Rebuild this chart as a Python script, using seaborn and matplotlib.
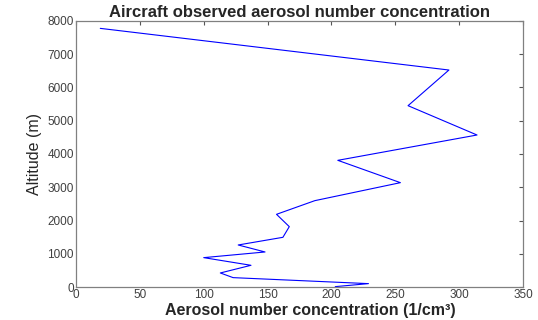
import matplotlib
matplotlib.use("Agg")
import matplotlib.pyplot as plt
import seaborn as sns
import pandas as pd

# Vertical profile from the aircraft sounding (top to bottom)
altitude_m = [7770, 6520, 5450, 4570, 3810, 3140, 2600, 2190, 1820, 1500,
              1270, 1060, 890, 660, 430, 290, 110, 20]
concentration = [19, 292, 260, 314, 205, 254, 187, 157, 167, 162,
                 127, 148, 100, 137, 113, 123, 229, 203]

x_ticks = [0, 50, 100, 150, 200, 250, 300, 350]
y_ticks = [0, 1000, 2000, 3000, 4000, 5000, 6000, 7000, 8000]

df = pd.DataFrame({"conc": concentration, "alt": altitude_m})

sns.set_theme(style="white")
plt.rcParams["font.family"] = ["Liberation Sans", "DejaVu Sans"]

fig = plt.figure(figsize=(5.38, 3.2), dpi=100)
ax = fig.add_axes([0.1413, 0.1022, 0.8308, 0.8331])

sns.lineplot(data=df, x="conc", y="alt", sort=False, estimator=None,
             color="#0000ff", linewidth=0.8, ax=ax)

ax.set_xlim(0, 350)
ax.set_ylim(0, 8000)
ax.set_xticks(x_ticks)
ax.set_yticks(y_ticks)
ax.tick_params(direction="in", length=3, width=0.8, colors="#555555",
               labelcolor="#404040", labelsize=8.5, top=True, right=True,
               pad=1.5)
for s in ax.spines.values():
    s.set_visible(True)
    s.set_color("#808080")
    s.set_linewidth(0.9)

ax.set_title("Aircraft observed aerosol number concentration",
             fontsize=12, fontweight="bold", pad=3)
ax.set_xlabel("Aerosol number concentration (1/cm\u00b3)", fontsize=11.5,
              fontweight="bold", va="baseline")
ax.xaxis.set_label_coords(0.525, -0.104, transform=ax.transAxes)
ax.set_ylabel("Altitude (m)", fontsize=11.5,
              family=["Liberation Sans Narrow", "Liberation Sans"],
              labelpad=4)

fig.savefig("out.png", dpi=100)
